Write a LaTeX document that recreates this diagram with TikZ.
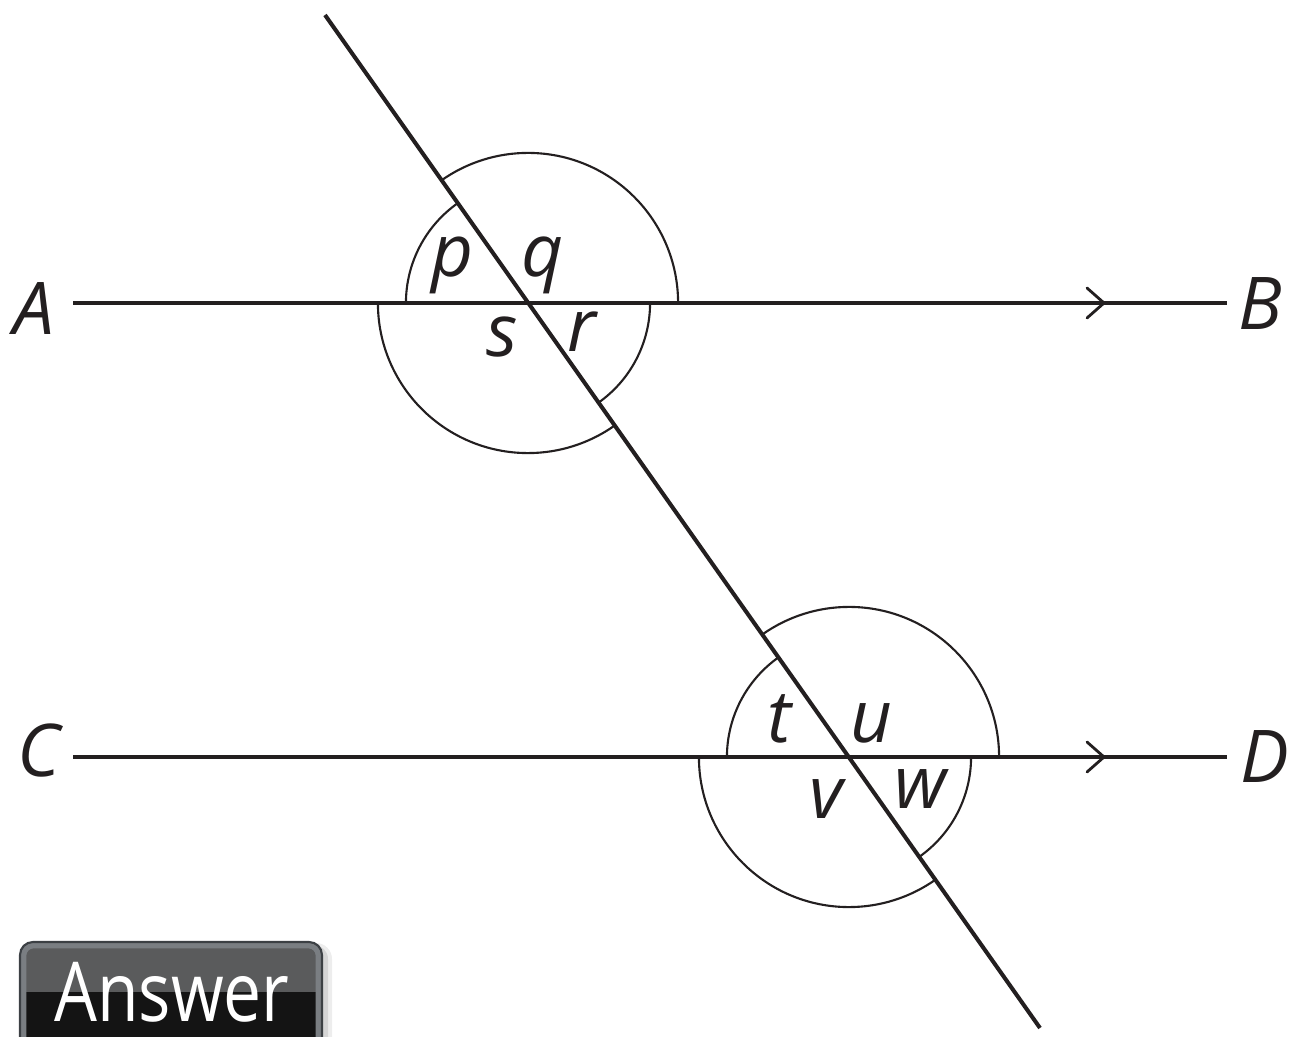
\documentclass[tikz,border=0pt]{standalone}
\usepackage{fontspec}
\setmainfont{Open Sans}
\definecolor{ink}{HTML}{231F20}
\definecolor{btntop}{HTML}{5A5B5C}
\definecolor{btnbot}{HTML}{141414}
\definecolor{btnedge}{HTML}{7A7E82}
\definecolor{btnouter}{HTML}{3C4044}
\begin{document}
\begin{tikzpicture}[x=0.01cm,y=0.01cm,
  lbl/.style={font=\fontsize{20.7}{24}\selectfont\itshape, inner sep=0pt, anchor=base, text=ink},
  mainline/.style={line width=1.15pt, draw=ink},
  anglearc/.style={line width=0.6pt, draw=ink},
  chevron/.style={line width=0.8pt, draw=ink, line cap=round}]
\useasboundingbox (0,0) rectangle (1300,1036);
\clip (0,0) rectangle (1300,1036);
% points
\coordinate (A0) at (73,733);
\coordinate (B0) at (1227,733);
\coordinate (C0) at (73,279);
\coordinate (D0) at (1227,279);
\coordinate (P1) at (528,733);
\coordinate (P2) at (849,279);
\coordinate (T1) at (325,1021);
\coordinate (T2) at (1040,8);
\coordinate (AR1) at (1104,733);
\coordinate (AR2) at (1104,279);
% lines
\draw[mainline] (A0) -- (B0);
\draw[mainline] (C0) -- (D0);
\draw[mainline] (T1) -- (T2);
% arrow marks
\draw[chevron] ([shift={(-17,15)}]AR1) -- (AR1) -- ([shift={(-17,-15)}]AR1);
\draw[chevron] ([shift={(-17,15)}]AR2) -- (AR2) -- ([shift={(-17,-15)}]AR2);
% angle arcs, upper intersection
\draw[anglearc] ([shift={(0:1.5cm)}]P1) arc[start angle=0, end angle=125.2, radius=1.5cm];
\draw[anglearc] ([shift={(125.2:1.22cm)}]P1) arc[start angle=125.2, end angle=180, radius=1.22cm];
\draw[anglearc] ([shift={(180:1.5cm)}]P1) arc[start angle=180, end angle=305.2, radius=1.5cm];
\draw[anglearc] ([shift={(305.2:1.22cm)}]P1) arc[start angle=305.2, end angle=360, radius=1.22cm];
% angle arcs, lower intersection
\draw[anglearc] ([shift={(0:1.5cm)}]P2) arc[start angle=0, end angle=125.2, radius=1.5cm];
\draw[anglearc] ([shift={(125.2:1.22cm)}]P2) arc[start angle=125.2, end angle=180, radius=1.22cm];
\draw[anglearc] ([shift={(180:1.5cm)}]P2) arc[start angle=180, end angle=305.2, radius=1.5cm];
\draw[anglearc] ([shift={(305.2:1.22cm)}]P2) arc[start angle=305.2, end angle=360, radius=1.22cm];
% point labels
\node[lbl] (A) at (34,701) {A};
\node[lbl] (B) at (1260,706) {B};
\node[lbl] (C) at (39,260) {C};
\node[lbl] (D) at (1265,254) {D};
% angle labels
\node[lbl] (p) at (453,759) {p};
\node[lbl] (q) at (543,759) {q};
\node[lbl] (s) at (502,679) {s};
\node[lbl] (r) at (582,684) {r};
\node[lbl] (t) at (779,294) {t};
\node[lbl] (u) at (871,294) {u};
\node[lbl] (v) at (826,218) {v};
\node[lbl] (w) at (921,228) {w};
% Answer button
\fill[black, opacity=0.10, rounded corners=0.14cm] (24,-20) rectangle (328,91);
\fill[black, opacity=0.07, rounded corners=0.16cm] (22,-20) rectangle (332,93);
\begin{scope}
  \clip[rounded corners=0.13cm] (20,-20) rectangle (322,94);
  \fill[btntop] (20,44) rectangle (322,94);
  \fill[btnbot] (20,-20) rectangle (322,44);
\end{scope}
\draw[btnedge, line width=1.6pt, rounded corners=0.10cm] (23.5,-20) rectangle (318.5,90.5);
\draw[btnouter, line width=0.6pt, rounded corners=0.13cm] (20,-20) rectangle (322,94);
\node[font=\fontsize{23.5}{28}\selectfont, text=white, inner sep=0pt, anchor=base] (ans) at (172,15) {\scalebox{0.82}[1]{Answer}};
\end{tikzpicture}
\end{document}
